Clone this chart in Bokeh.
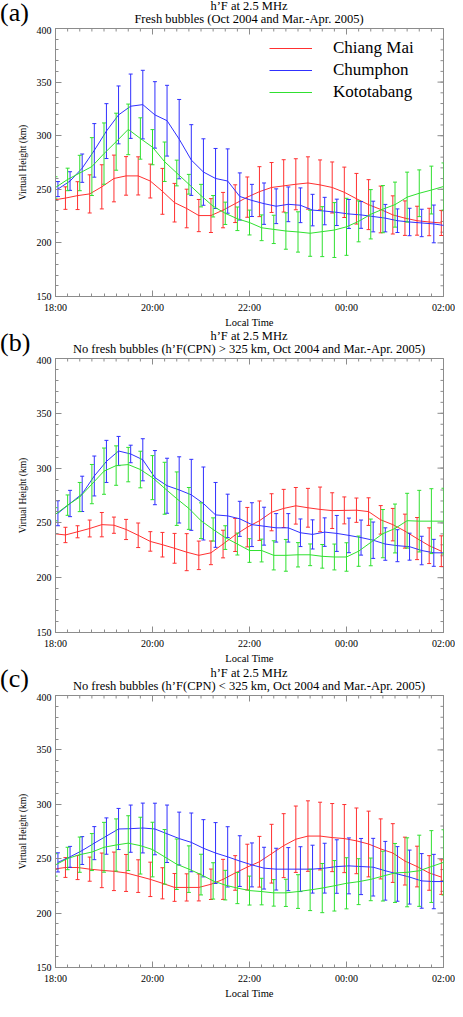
import html
import numpy as np
from bokeh.plotting import figure
from bokeh.layouts import column
from bokeh.models import Div, LinearAxis, FixedTicker, Range1d
from bokeh.embed import file_html
from bokeh.resources import INLINE

stations = ["Chiang Mai", "Chumphon", "Kototabang"]
tick_hours = [0, 2, 4, 6, 8]
tick_labels = ["18:00", "20:00", "22:00", "00:00", "02:00"]
y_ticks = [150, 200, 250, 300, 350, 400]
quarter_hours = np.arange(33) * 0.25   # 18:00 .. 02:00 every 15 min

# (a) fresh bubbles
cm_a = [240, 241.8, 244.1, 245.7, 252.3, 260.1, 262.5, 262.5, 257.7, 248.1, 237.5, 232.1, 225.5,
        225.5, 230.6, 236.6, 242.7, 247.8, 251.7, 253.2, 254.7, 255.9, 254.1, 251.7, 247.2, 241.2,
        235.7, 231.2, 226.1, 223.1, 220.7, 219.5, 218.6]
cm_a_err = [10, 10.5, 13, 17.8, 20.6, 21.8, 18, 17.8, 15.8, 21.4, 18, 18, 15, 15.8, 16.5, 17.6, 18.8,
            23.3, 23.3, 24.4, 23.8, 24.4, 23.3, 23.8, 23.5, 23.6, 23.3, 21.8, 17.8, 16.1, 13.5, 12.8, 11.7]
cp_a = [250.2, 257.7, 269.7, 286.3, 304.3, 319.4, 327.5, 329, 319.4, 314, 296.8, 277.3, 266.1,
        260.1, 257.7, 243.3, 239.6, 236.6, 234.2, 236, 235.1, 230.6, 229.7, 228.5, 227, 226.1,
        224.6, 223.1, 220.7, 219.5, 218.6, 217.7, 216]
cp_a_err = [7, 8.7, 13.2, 25, 25.6, 27, 30, 32, 31, 33, 37, 33, 31, 28, 30, 22, 15, 19.3, 16.2, 16.2,
            16.2, 14.7, 12.8, 12.3, 13.5, 12.5, 14.3, 12.8, 11, 12.8, 12.8, 17.6, 15]
kt_a = [251.7, 259.2, 265.2, 271.2, 283.3, 294.4, 305.9, 297.4, 289.3, 275.7, 265.2, 254.7, 244.1,
        234.2, 227.6, 222.5, 219, 214.1, 212.6, 211.1, 210.2, 209, 210.5, 212, 215, 220.1, 226.7,
        231.5, 235.7, 242.7, 246.3, 249.3, 252.6]
kt_a_err = [10, 10.5, 16.5, 27, 28.6, 26.6, 23.6, 19.3, 16.4, 18.4, 12, 9.2, 10.5, 10, 10.4, 11, 11.6,
            12, 13.2, 17, 18.8, 21.5, 23.3, 25.6, 26.6, 19.1, 23, 22, 21, 23.3, 21.8, 22.3, 22]

# (b) no fresh bubbles, h'F(CPN) > 325 km
cm_b = [240.2, 239, 241.9, 244.9, 248.4, 247.9, 244, 238.7, 233.1, 230.1, 226.8, 223.3, 220.4,
        222.7, 230.7, 239, 246.1, 252, 259.7, 263.2, 265.6, 263.8, 262.3, 261.2, 261.4, 261.6,
        260.3, 252.8, 248.4, 242.5, 235.7, 229.2, 224.2]
cm_b_err = [7, 7, 5.5, 7.7, 11.1, 7.4, 9.2, 11.2, 8.9, 11.2, 13.6, 16.9, 13, 10.8, 12.6, 15.1, 18, 18,
            16.9, 17.4, 16.7, 17.7, 20.4, 16.3, 12.3, 11.1, 12.6, 13, 14.8, 15.5, 19.2, 16.3, 14]
cp_b = [258.8, 267.7, 276.5, 292.8, 306.1, 315.6, 312.9, 307.6, 291.3, 283.9, 280.1, 275.6, 267.7,
        257.3, 256.4, 253.7, 248.4, 247, 245.5, 245.5, 241, 239.5, 241.6, 240.4, 238.6, 236.6,
        234.2, 230.7, 229.2, 228.3, 224.8, 222.7, 222.7]
cp_b_err = [11.4, 12, 16.1, 18.2, 19.2, 13.3, 8, 19.2, 24.7, 25.1, 30.2, 32.4, 33.3, 29.6, 19.8, 16,
            20, 17.3, 13, 13, 12.6, 13.3, 13, 16.4, 15.8, 16, 16.6, 14.8, 14.6, 12.3, 13, 12.3, 12]
kt_b = [257.9, 266.2, 273.6, 285.4, 297.2, 302.3, 303.2, 298.7, 291.3, 281.6, 272.1, 263.2, 252,
        244, 236.6, 230.7, 224.8, 224.8, 220.4, 220.4, 220.9, 220.9, 219.5, 218.9, 218.9, 224.2,
        232.2, 240.2, 244.9, 252, 251.6, 251.6, 251.6]
kt_b_err = [6, 9.3, 13.3, 17.9, 21.1, 18, 15.7, 16.7, 20.1, 23.7, 24.4, 19.1, 16.3, 10.6, 10.8, 10,
            10.8, 10.4, 13.3, 14.5, 11.1, 9.9, 10.8, 11.8, 13, 13.8, 21.3, 22, 22.3, 25, 28.1, 29.6, 30]

# (c) no fresh bubbles, h'F(CPN) < 325 km
cm_c = [240.4, 241.9, 241.9, 240.4, 239.3, 238.4, 236.9, 234, 231, 227.4, 223.6, 223.6, 223.6,
        226.5, 231, 236.9, 242.3, 247.2, 254.6, 262, 267.9, 270.8, 270.8, 269.4, 268.5, 266.4,
        263.5, 259, 255.2, 247.8, 242.8, 236.9, 233.1]
cm_c_err = [9, 9.1, 11.1, 11.1, 15.9, 17.7, 17, 15, 15.8, 14.3, 12.8, 12.5, 12.4, 14, 18.4, 15.9, 21,
            23.3, 27, 29.4, 30.5, 32.4, 31.1, 31.3, 31.3, 30.2, 30.2, 27.6, 27, 22, 18.7, 15.9, 15.9]
cp_c = [246.6, 251.7, 257.5, 264.3, 270.8, 277.3, 277.6, 278.2, 277.3, 272.9, 268.5, 265, 259.6,
        255.2, 251.7, 247.8, 244.3, 241.3, 240.4, 240.4, 240.4, 240.4, 241.3, 242.8, 243.4, 242.8,
        242.2, 238.9, 236, 233.1, 229.6, 229, 229]
cp_c_err = [8.8, 9.6, 12.8, 15.2, 16.7, 18.9, 21.7, 22.9, 23.7, 26.4, 24.3, 27, 26.3, 28, 27.7, 23.3,
            20.2, 19.2, 19.2, 19.8, 20.6, 22, 22.9, 24.6, 25.7, 25.8, 26.5, 27, 25.1, 24.8, 25.1, 25, 25]
kt_c = [244.3, 250.2, 253.7, 256.1, 260.5, 262.6, 264.3, 262, 258.4, 251.7, 244.9, 240.4, 235.4,
        229.6, 225.7, 223, 220.7, 219.8, 218.6, 218.6, 219.8, 221.3, 223, 225.1, 227.4, 228.9, 231,
        234, 236.9, 237.5, 238.9, 242.8, 246.6]
kt_c_err = [10.3, 10.3, 16.2, 17, 22.9, 24, 25.2, 26.1, 25.1, 25.1, 23.2, 21.4, 18.7, 16.7, 13.6, 14.3,
            13.3, 12.2, 12.2, 12.5, 15.5, 19, 22.6, 23.2, 23.5, 21.1, 19.6, 22.9, 27.1, 31.7, 32.7, 33, 30]

colors = ["#ff3030", "#3030ff", "#30e030"]
shifts = [-0.045, 0.05, 0.0]   # small x offsets so the bars don't overlap
SERIF = "Liberation Serif"
GREY = "#8c8c8c"
W = 455


def header(tag, subtitle, h, top):
    # panel tag and the two title lines, as html above each figure
    base = "position:absolute;white-space:nowrap;font-family:'Liberation Serif',serif;color:black;"
    line = "left:55px;width:388px;text-align:center;font-size:12.5px;line-height:12.5px;"
    txt = (f'<div style="position:relative;width:{W}px;height:{h}px">'
           f'<div style="{base}left:0px;top:0px;font-size:26px;line-height:26px">{tag}</div>'
           f'<div style="{base}{line}top:{top}px">h\u2019F at 2.5 MHz</div>'
           f'<div style="{base}{line}top:{top + 12.5}px">{html.escape(subtitle)}</div></div>')
    return Div(text=txt, width=W, height=h, margin=0)


def style_axis(ax):
    ax.axis_line_color = GREY
    ax.major_tick_line_color = GREY
    ax.minor_tick_line_color = GREY
    ax.major_tick_in = 6
    ax.major_tick_out = 0
    ax.minor_tick_in = 3
    ax.minor_tick_out = 0
    ax.major_label_text_font = SERIF
    ax.major_label_text_font_size = "10px"
    ax.major_label_text_color = "black"
    ax.axis_label_text_font = SERIF
    ax.axis_label_text_font_style = "normal"
    ax.axis_label_text_color = "black"


def make_panel(data, frame_h, bottom, legend=False):
    p = figure(width=W, height=2 + frame_h + bottom,
               x_range=Range1d(0, 8), y_range=Range1d(150, 400),
               x_axis_type=None, y_axis_type=None,
               output_backend="svg", toolbar_location=None, tools="",
               min_border_left=55, min_border_right=12,
               min_border_top=2, min_border_bottom=bottom)
    p.outline_line_color = GREY

    y_minor = list(range(150, 401, 10))
    xt = FixedTicker(ticks=tick_hours, minor_ticks=list(quarter_hours))
    yt = FixedTicker(ticks=y_ticks, minor_ticks=y_minor)

    xb = LinearAxis(ticker=xt, axis_label="Local Time",
                    major_label_overrides=dict(zip(tick_hours, tick_labels)))
    style_axis(xb)
    xb.major_label_standoff = 5
    xb.axis_label_standoff = 1
    xb.axis_label_text_font_size = "10.5px"
    p.add_layout(xb, "below")

    yl = LinearAxis(ticker=yt, axis_label="Virtual Height (km)")
    style_axis(yl)
    yl.major_label_standoff = 4
    yl.axis_label_standoff = 6
    yl.axis_label_text_font_size = "9.5px"
    p.add_layout(yl, "left")

    # inward ticks on the top and right edges (half of each dash is clipped by the frame)
    top_y = y_ticks[-1]
    right_x = tick_hours[-1]
    p.scatter(tick_hours, [top_y] * len(tick_hours), marker="dash", angle=np.pi / 2,
              size=12, line_color=GREY)
    p.scatter(quarter_hours, [top_y] * len(quarter_hours), marker="dash", angle=np.pi / 2,
              size=6, line_color=GREY)
    p.scatter([right_x] * len(y_ticks), y_ticks, marker="dash", size=12, line_color=GREY)
    p.scatter([right_x] * len(y_minor), y_minor, marker="dash", size=6, line_color=GREY)

    for name, color, dx, (vals, errs) in zip(stations, colors, shifts, data):
        x = quarter_hours + dx
        v = np.array(vals)
        e = np.array(errs)
        p.segment(x, v - e, x, v + e, line_color=color, line_width=1)
        p.scatter(x, v + e, marker="dash", size=4, line_color=color)
        p.scatter(x, v - e, marker="dash", size=4, line_color=color)
        if legend:
            p.line(x, v, line_color=color, line_width=1, legend_label=name)
        else:
            p.line(x, v, line_color=color, line_width=1)

    if legend:
        lg = p.legend[0]
        lg.location = (214, frame_h - 77)
        lg.border_line_color = None
        lg.background_fill_alpha = 0
        lg.padding = 0
        lg.margin = 0
        lg.spacing = 2
        lg.glyph_width = 43
        lg.glyph_height = 20
        lg.label_height = 20
        lg.label_standoff = 21
        lg.label_text_font = SERIF
        lg.label_text_font_size = "17px"
        lg.label_text_color = "black"
    return p


ha = header("(a)", "Fresh bubbles (Oct 2004 and Mar.-Apr. 2005)", 26, 0)
pa = make_panel([(cm_a, cm_a_err), (cp_a, cp_a_err), (kt_a, kt_a_err)], 271, 31, legend=True)
hb = header("(b)", "No fresh bubbles (h\u2019F(CPN) > 325 km, Oct 2004 and Mar.-Apr. 2005)", 26, 0)
pb = make_panel([(cm_b, cm_b_err), (cp_b, cp_b_err), (kt_b, kt_b_err)], 275, 33)
hc = header("(c)", "No fresh bubbles (h\u2019F(CPN) < 325 km, Oct 2004 and Mar.-Apr. 2005)", 27, 1)
pc = make_panel([(cm_c, cm_c_err), (cp_c, cp_c_err), (kt_c, kt_c_err)], 275, 31)

p = column(ha, pa, hb, pb, hc, pc, spacing=0)
open("out.html", "w").write(file_html(p, INLINE))
